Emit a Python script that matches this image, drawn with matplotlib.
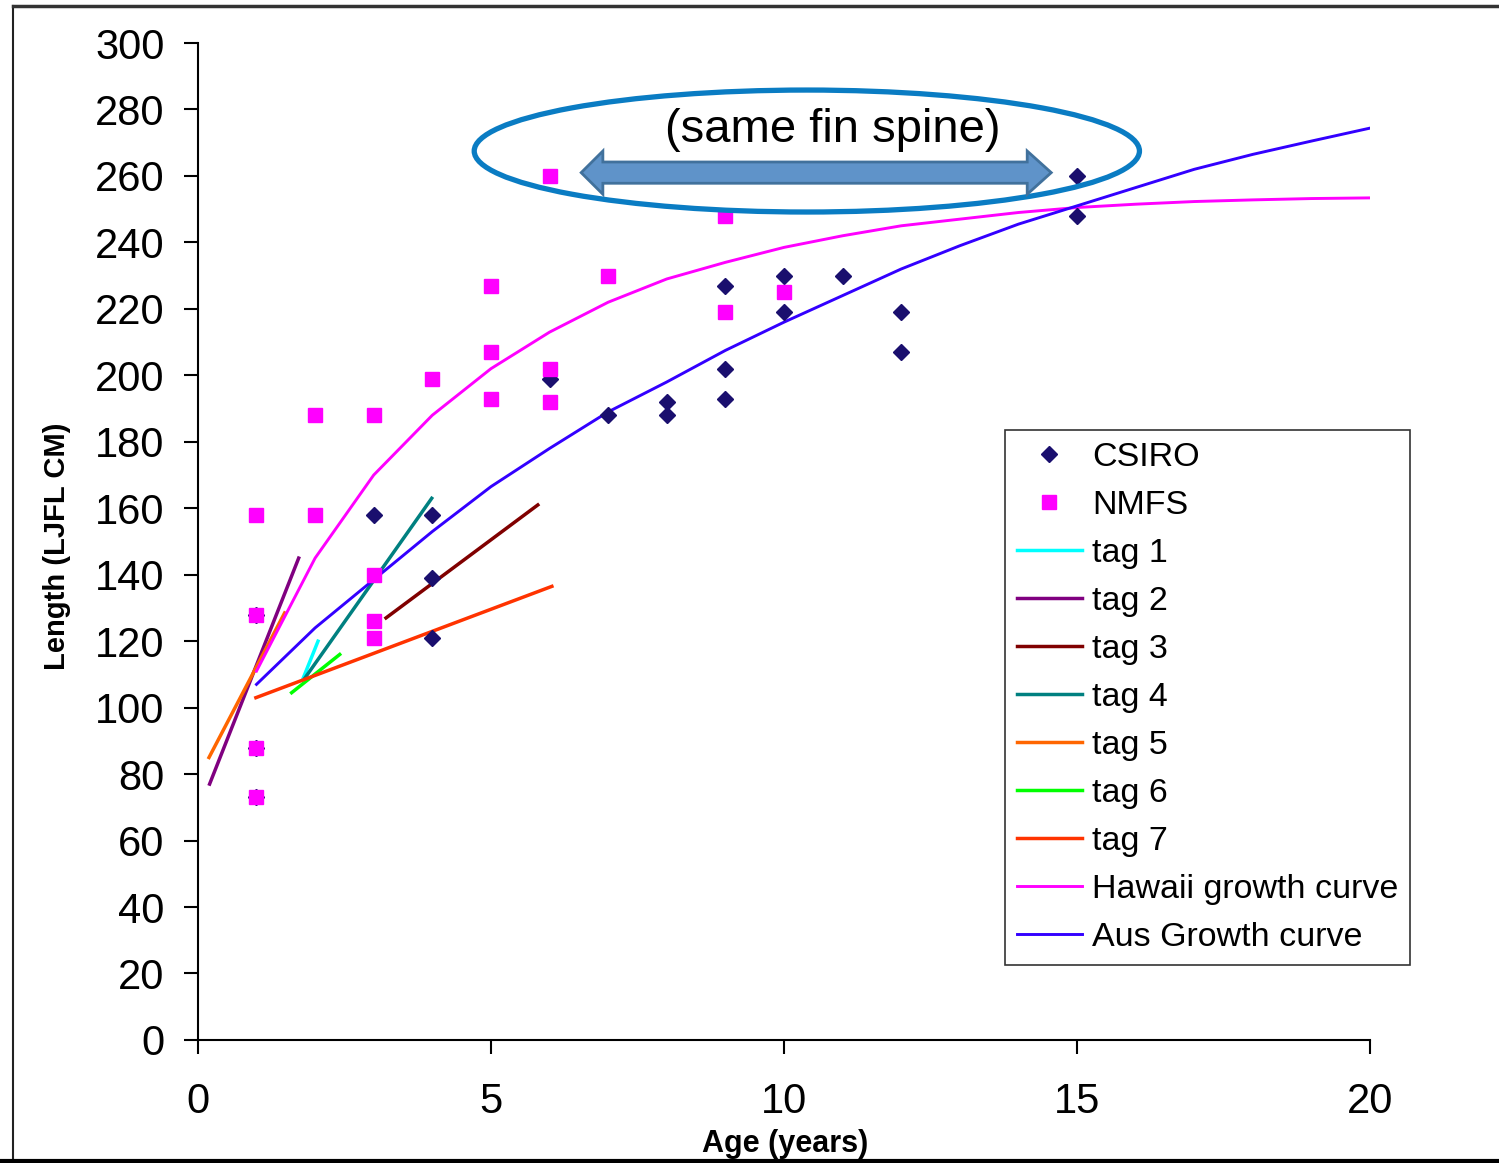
import matplotlib
matplotlib.use("Agg")
import matplotlib.pyplot as plt
from matplotlib.patches import Ellipse, Polygon
from matplotlib.lines import Line2D

plt.rcParams['font.family'] = ['Liberation Sans', 'DejaVu Sans']

# CSIRO ages (diamonds)
csiro_age = [1, 1, 1, 3, 4, 4, 4, 6, 7, 8, 8, 9, 9, 9, 10, 10, 11, 12, 12, 15, 15]
csiro_len = [128, 88, 73, 158, 158, 139, 121, 199, 188, 192, 188, 227, 202, 193,
             230, 219, 230, 219, 207, 260, 248]

# NMFS ages (squares)
nmfs_age = [1, 1, 1, 1, 2, 2, 3, 3, 3, 3, 4, 5, 5, 5, 6, 6, 6, 7, 9, 9, 10]
nmfs_len = [158, 128, 88, 73, 188, 158, 188, 140, 126, 121, 199, 227, 207, 193,
            260, 202, 192, 230, 248, 219, 225]

# tag recaptures (start -> end)
tag1_age = [1.8, 2.05]
tag1_len = [109, 120]
tag2_age = [0.2, 1.72]
tag2_len = [77, 145]
tag3_age = [3.21, 5.8]
tag3_len = [127, 161]
tag4_age = [1.83, 3.99]
tag4_len = [109, 163]
tag5_age = [0.19, 1.48]
tag5_len = [85, 128.5]
tag6_age = [1.6, 2.42]
tag6_len = [104.5, 116]
tag7_age = [0.99, 6.04]
tag7_len = [103, 136.5]

# growth curves
hawaii_age = [1, 1.5, 2, 3, 4, 5, 6, 7, 8, 9, 10, 11, 12, 13, 14, 15, 16, 17, 18, 19, 20]
hawaii_len = [111, 128, 145, 170, 188, 202, 213, 222, 229, 234, 238.5, 242, 245,
              247, 249, 250.5, 251.5, 252.3, 252.8, 253.2, 253.4]
aus_age = [1, 2, 3, 4, 5, 6, 7, 8, 9, 10, 11, 12, 13, 14, 15, 16, 17, 18, 19, 20]
aus_len = [107, 124, 138.5, 153, 166.5, 178, 189, 198, 207.5, 216, 224, 232, 239,
           245.5, 251, 256.5, 262, 266.5, 270.5, 274.4]

x_ticks = [0, 5, 10, 15, 20]
y_ticks = list(range(0, 301, 20))

fig = plt.figure(figsize=(14.99, 11.63), dpi=100)
ax = fig.add_axes([0.132, 0.1058, 0.782, 0.8572])

tags = [
    (tag1_age, tag1_len, '#00FFFF', 'tag 1'),
    (tag2_age, tag2_len, '#800080', 'tag 2'),
    (tag3_age, tag3_len, '#800000', 'tag 3'),
    (tag4_age, tag4_len, '#008080', 'tag 4'),
    (tag5_age, tag5_len, '#FF6600', 'tag 5'),
    (tag6_age, tag6_len, '#00FF00', 'tag 6'),
    (tag7_age, tag7_len, '#FF3300', 'tag 7'),
]

ax.plot(csiro_age, csiro_len, linestyle='none', marker='D', markersize=8,
        color='#1A0F6E', label='CSIRO', zorder=4)
ax.plot(nmfs_age, nmfs_len, linestyle='none', marker='s', markersize=9.5,
        color='#FF00FF', label='NMFS', zorder=4)
for xs, ys, c, name in tags:
    ax.plot(xs, ys, color=c, lw=2.5, label=name, zorder=3)
ax.plot(hawaii_age, hawaii_len, color='#FF00FF', lw=2.1, label='Hawaii growth curve', zorder=3)
ax.plot(aus_age, aus_len, color='#3300FF', lw=2.1, label='Aus Growth curve', zorder=3)

ax.set_xlim(0, 20)
ax.set_ylim(0, 300)
ax.set_xticks(x_ticks)
ax.set_yticks(y_ticks)
for s in ['top', 'right']:
    ax.spines[s].set_visible(False)
for s in ['left', 'bottom']:
    ax.spines[s].set_linewidth(1.5)
ax.tick_params(axis='both', direction='out', length=10, width=1.5, labelsize=30)
ax.tick_params(axis='y', pad=14)
ax.tick_params(axis='x', pad=20)

# annotation: ellipse + double arrow
ax.add_patch(Ellipse((10.39, 267.5), 11.35, 36.7, fill=False, edgecolor='#0A7CC3',
                     lw=3.8, zorder=6, clip_on=False))
arrow = [(6.54, 261), (6.91, 267.5), (6.91, 264.2), (14.15, 264.2), (14.15, 267.5),
         (14.56, 261), (14.15, 254.5), (14.15, 257.8), (6.91, 257.8), (6.91, 254.5)]
ax.add_patch(Polygon(arrow, closed=True, facecolor='#5F93C9', edgecolor='#41719C',
                     lw=2, zorder=6, clip_on=False))
ax.text(10.84, 273.8, '(same fin spine)', fontsize=34, ha='center', va='center', zorder=7)

leg = ax.legend(loc='upper left', bbox_to_anchor=(1005 / 1499, 1 - 430 / 1163),
                bbox_transform=fig.transFigure, borderaxespad=0, fontsize=24.5,
                frameon=True, fancybox=False, labelspacing=0.5, handlelength=1.9,
                handletextpad=0.3, borderpad=0.35, numpoints=1)
leg.get_frame().set_edgecolor('black')
leg.get_frame().set_linewidth(1.2)

fig.text(57 / 1499, 0.5305, 'Length (LJFL CM)', rotation=90, ha='center', va='center',
         fontsize=21, fontweight='bold')
fig.text(785 / 1499, 1 - 1152 / 1163, 'Age (years)', ha='center', va='baseline',
         fontsize=22, fontweight='bold')

# outer frame of the slide image
fig.add_artist(Line2D([13 / 1499, 13 / 1499], [0.0, 1 - 6 / 1163], color='#222222', lw=1.5))
fig.add_artist(Line2D([13 / 1499, 1.0], [1 - 6 / 1163, 1 - 6 / 1163], color='#333333', lw=2.5))
fig.add_artist(Line2D([0.0, 1.0], [2.5 / 1163, 2.5 / 1163], color='black', lw=3))

fig.savefig('out.png', dpi=100)
